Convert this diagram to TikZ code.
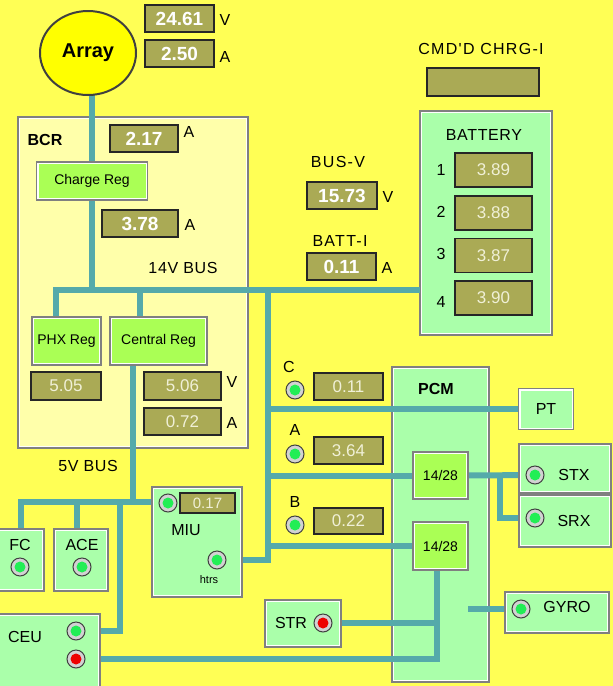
\documentclass[tikz,border=0pt]{standalone}
\usepackage{fontspec}
\setmainfont{Liberation Sans}
\newfontfamily\widefont{Liberation Sans}[LetterSpace=8]
\newfontfamily\semiwidefont{Liberation Sans}[LetterSpace=4]
\usetikzlibrary{shapes.geometric}
\definecolor{bgy}{RGB}{255,255,85}
\definecolor{bcrc}{RGB}{255,255,170}
\definecolor{compg}{RGB}{170,255,170}
\definecolor{regg}{RGB}{170,255,85}
\definecolor{olivec}{RGB}{170,170,85}
\definecolor{wirec}{RGB}{85,170,170}
\definecolor{arrayy}{RGB}{255,255,0}
\definecolor{ledgreen}{RGB}{34,238,85}
\definecolor{ledred}{RGB}{238,0,0}
\definecolor{edgec}{RGB}{128,128,128}
\definecolor{valtxt}{RGB}{240,240,215}
\pgfdeclarelayer{cont}
\pgfdeclarelayer{wires}
\pgfsetlayers{cont,wires,main}
\tikzset{
  bevel/.style={draw=edgec, line width=1.5pt, inner sep=0pt, outer sep=0pt,
    path picture={\draw[white, line width=4pt] (path picture bounding box.north west) rectangle (path picture bounding box.south east);}},
  contbox/.style={bevel, fill=compg},
  comp/.style={bevel, fill=compg, font=\fontsize{16}{16}\selectfont},
  regbox/.style={bevel, fill=regg, font=\fontsize{14}{14}\selectfont},
  valbox/.style={draw=black!85, line width=1.5pt, fill=olivec, inner sep=0pt, outer sep=0pt,
    text=valtxt, font=\fontsize{17}{17}\selectfont},
  valbold/.style={valbox, text=white, font=\bfseries\fontsize{19}{19}\selectfont},
  lbl/.style={inner sep=0pt, font=\fontsize{16}{16}\selectfont},
  widelbl/.style={inner sep=0pt, font=\widefont\fontsize{16}{16}\selectfont},
  semilbl/.style={inner sep=0pt, font=\semiwidefont\fontsize{16}{16}\selectfont},
  wire/.style={draw=wirec, line width=6pt},
  ledbase/.style={circle, minimum size=18pt, inner sep=0pt, draw=black!75, line width=1pt, fill=gray!35},
  ledg/.style={ledbase, path picture={\fill[ledgreen] (path picture bounding box.center) circle (5.5pt);}},
  ledr/.style={ledbase, path picture={\fill[ledred] (path picture bounding box.center) circle (5.5pt);}}
}
\begin{document}
\begin{tikzpicture}[x=1pt,y=-1pt]
\useasboundingbox (0,0) rectangle (613,686);
\begin{pgfonlayer}{cont}
\fill[bgy] (0,0) rectangle (613,686);
\node[bevel, fill=bcrc, minimum width=230pt, minimum height=331pt] (bcr) at (133,282.5) {};
\node[contbox, minimum width=132pt, minimum height=224pt] (battery) at (486,223) {};
\node[contbox, minimum width=97pt, minimum height=315pt] (pcm) at (440.5,524.5) {};
\end{pgfonlayer}
\clip (0,0) rectangle (613,686);

% coordinates
\coordinate (bus14) at (0,290);
\coordinate (bus5) at (0,502);
\coordinate (vtop) at (268,290);
\coordinate (ceujoin) at (120,502);
\coordinate (stxjoin) at (500,475);
\coordinate (gyrostub) at (468,609);

% array and top values
\node[ellipse, draw=black!75, line width=2pt, fill=arrayy, minimum width=96pt, minimum height=84pt, inner sep=0pt, outer sep=0pt, font=\bfseries\fontsize{20}{20}\selectfont] (array) at (88,53) {Array};
\node[valbold, minimum width=69pt, minimum height=27pt] (v2461) at (179.5,18.5) {24.61};
\node[lbl] (vlab1) at (225,20) {V};
\node[valbold, minimum width=69pt, minimum height=27pt] (v250) at (179.5,53.5) {2.50};
\node[lbl] (alab1) at (225,57) {A};

% BCR content
\node[lbl, font=\bfseries\fontsize{16}{16}\selectfont] (bcrlab) at (45,140) {BCR};
\node[valbold, minimum width=68pt, minimum height=27pt] (v217) at (144,138.5) {2.17};
\node[lbl] (alab2) at (189,132) {A};
\node[regbox, minimum width=111pt, minimum height=38pt] (chargereg) at (92,181) {Charge Reg};
\node[valbold, minimum width=76pt, minimum height=27pt] (v378) at (140,223.5) {3.78};
\node[lbl] (alab3) at (190,225) {A};
\node[semilbl] (bus14lab) at (183,268) {14V BUS};
\node[regbox, minimum width=69pt, minimum height=48pt] (phxreg) at (66.5,341) {PHX Reg};
\node[regbox, minimum width=97pt, minimum height=48pt] (centralreg) at (158.5,341) {Central Reg};
\node[valbox, minimum width=70pt, minimum height=28pt] (v505) at (66,386) {5.05};
\node[valbox, minimum width=77pt, minimum height=28pt] (v506) at (182.5,386) {5.06};
\node[lbl] (vlab2) at (232,382) {V};
\node[valbox, minimum width=77pt, minimum height=27pt] (v072) at (182.5,421.5) {0.72};
\node[lbl] (alab4) at (232,423) {A};
\node[semilbl] (bus5lab) at (88,466) {5V BUS};

% bus V / batt I
\node[widelbl] (busvlab) at (338,162) {BUS-V};
\node[valbold, minimum width=70pt, minimum height=27pt] (v1573) at (342,195.5) {15.73};
\node[lbl] (vlab3) at (388,197) {V};
\node[widelbl] (battilab) at (340,241) {BATT-I};
\node[valbold, minimum width=69pt, minimum height=27pt] (v011b) at (341.5,266.5) {0.11};
\node[lbl] (alab5) at (387,268) {A};

% CMD'D and battery
\node[widelbl] (cmdlab) at (481,49) {CMD'D CHRG-I};
\node[valbox, minimum width=112pt, minimum height=28pt] (cmdbox) at (483,82) {};
\node[semilbl] (battlab) at (484,135) {BATTERY};
\node[valbox, minimum width=77pt, minimum height=34pt] (cell1) at (493.5,170) {3.89};
\node[valbox, minimum width=77pt, minimum height=34pt] (cell2) at (493.5,213) {3.88};
\node[valbox, minimum width=77pt, minimum height=34pt] (cell3) at (493.5,255.5) {3.87};
\node[valbox, minimum width=77pt, minimum height=34pt] (cell4) at (493.5,298) {3.90};
\node[lbl] (n1) at (441,170) {1};
\node[lbl] (n2) at (441,212) {2};
\node[lbl] (n3) at (441,254) {3};
\node[lbl] (n4) at (441,302) {4};

% C A B
\node[lbl] (clab) at (289,367) {C};
\node[ledg] (cled) at (295,390) {};
\node[valbox, minimum width=69pt, minimum height=27pt] (vc) at (348.5,386.5) {0.11};
\node[lbl] (alab) at (295,430) {A};
\node[ledg] (aled) at (295,454) {};
\node[valbox, minimum width=69pt, minimum height=27pt] (va) at (348.5,450.5) {3.64};
\node[lbl] (blab) at (295,502) {B};
\node[ledg] (bled) at (295,525) {};
\node[valbox, minimum width=69pt, minimum height=26pt] (vb) at (348.5,521) {0.22};

% PCM content
\node[lbl, font=\bfseries\fontsize{16}{16}\selectfont] (pcmlab) at (436,389) {PCM};
\node[regbox, minimum width=55pt, minimum height=47pt] (c1428a) at (440.5,475.5) {14/28};
\node[regbox, minimum width=55pt, minimum height=48pt] (c1428b) at (440.5,546) {14/28};

% right side
\node[comp, minimum width=55pt, minimum height=41pt] (pt) at (546,409) {PT};
\node[comp, minimum width=92pt, minimum height=49pt] (stx) at (565,468.5) {};
\node[comp, minimum width=92pt, minimum height=52pt] (srx) at (565,521) {};
\node[ledg] (stxled) at (535,475) {};
\node[ledg] (srxled) at (535,518) {};
\node[lbl] (stxlab) at (574,475) {STX};
\node[lbl] (srxlab) at (574,521) {SRX};
\node[comp, minimum width=104pt, minimum height=41pt] (gyro) at (557,612.5) {};
\node[ledg] (gyroled) at (521,609) {};
\node[lbl] (gyrolab) at (567,607) {GYRO};
\node[comp, minimum width=76pt, minimum height=47pt] (str) at (303,623.5) {};
\node[lbl] (strlab) at (291,623) {STR};
\node[ledr] (strled) at (323,623) {};

% MIU
\node[comp, minimum width=90pt, minimum height=110pt] (miu) at (197,542) {};
\node[ledg] (miuled) at (168,503) {};
\node[valbox, minimum width=55pt, minimum height=20pt, font=\fontsize{15}{15}\selectfont] (v017) at (207.5,503) {0.17};
\node[lbl] (miulab) at (186,530) {MIU};
\node[ledg] (htrsled) at (217,560) {};
\node[lbl, font=\fontsize{11}{11}\selectfont] (htrslab) at (209,580) {htrs};

% FC ACE CEU
\node[comp, minimum width=47pt, minimum height=62pt] (fc) at (20.5,560) {};
\node[lbl] (fclab) at (20,545) {FC};
\node[ledg] (fcled) at (20,567) {};
\node[comp, minimum width=54pt, minimum height=62pt] (ace) at (81,560) {};
\node[lbl] (acelab) at (82,545) {ACE};
\node[ledg] (aceled) at (82,567) {};
\node[comp, minimum width=103pt, minimum height=76pt] (ceu) at (48.5,652) {};
\node[lbl] (ceulab) at (25,637) {CEU};
\node[ledg] (ceuled1) at (76,631) {};
\node[ledr] (ceuled2) at (76,659) {};

% wires
\begin{pgfonlayer}{wires}
\draw[wire] (chargereg.north) -- (chargereg.north |- array.south);
\draw[wire] (chargereg.south) -- (chargereg.south |- bus14);
\draw[wire] ([xshift=-10.5pt]phxreg.north) |- (battery.west |- bus14);
\draw[wire] ([xshift=-18.5pt]centralreg.north) -- ([xshift=-18.5pt]centralreg.north |- bus14);
\draw[wire] ([xshift=-25.5pt]centralreg.south) -- ([xshift=-25.5pt]centralreg.south |- bus5);
\draw[wire] (fc.north) |- (miu.west |- bus5);
\draw[wire] ([xshift=-4pt]ace.north) -- ([xshift=-4pt]ace.north |- bus5);
\draw[wire] (ceuled1) -| (ceujoin);
\draw[wire] (htrsled) -| (vtop);
\draw[wire] (pt.west) -- (pt.west -| vtop);
\draw[wire] (c1428a.west) -- (c1428a.west -| vtop);
\draw[wire] (c1428b.west) -- (c1428b.west -| vtop);
\draw[wire] (c1428a.east) -- (stxled);
\draw[wire] (srxled) -| (stxjoin);
\draw[wire] (gyrostub) -- (gyroled);
\draw[wire] ([xshift=-3.5pt]c1428b.south) |- (ceuled2);
\draw[wire] (strled) -- ([xshift=-3.5pt]c1428b.south |- strled);
\end{pgfonlayer}
\end{tikzpicture}
\end{document}
